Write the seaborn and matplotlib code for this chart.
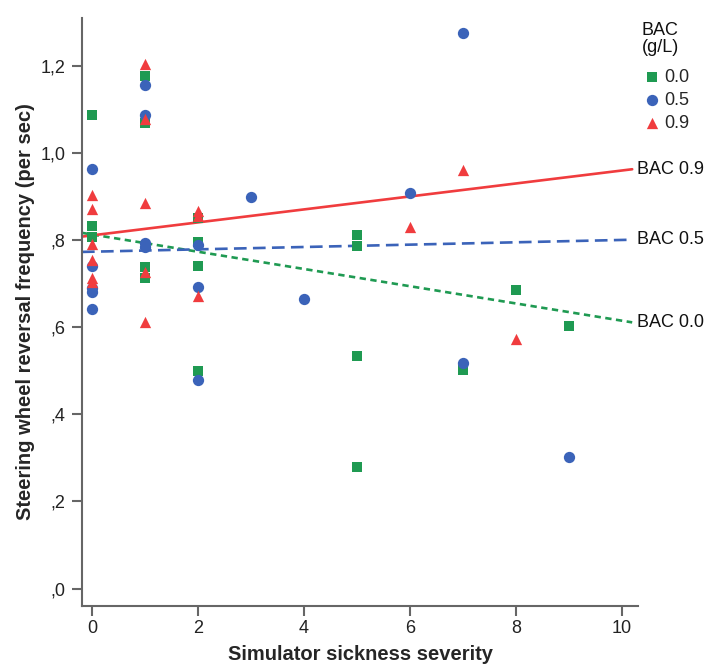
import numpy as np
import pandas as pd
import matplotlib
matplotlib.use("Agg")
import matplotlib.pyplot as plt
from matplotlib.ticker import FixedLocator, FixedFormatter
import seaborn as sns

# Observations per BAC group: simulator sickness score and steering reversal rate
sick_00 = [0, 0, 0, 1, 1, 1, 1, 2, 2, 2, 2, 5, 5, 5, 5, 7, 8, 9]
rate_00 = [1.087, 0.833, 0.808, 1.178, 1.069, 0.739, 0.712, 0.852, 0.796,
           0.741, 0.499, 0.812, 0.787, 0.533, 0.279, 0.501, 0.686, 0.602]

sick_05 = [0, 0, 0, 0, 0, 1, 1, 1, 1, 2, 2, 2, 3, 4, 6, 7, 7, 9]
rate_05 = [0.963, 0.741, 0.691, 0.680, 0.643, 1.156, 1.087, 0.794, 0.785,
           0.789, 0.693, 0.478, 0.899, 0.664, 0.908, 1.275, 0.519, 0.302]

sick_09 = [0, 0, 0, 0, 0, 0, 1, 1, 1, 1, 1, 2, 2, 2, 6, 7, 8]
rate_09 = [0.904, 0.872, 0.792, 0.755, 0.714, 0.703, 1.204, 1.078, 0.886,
           0.728, 0.613, 0.866, 0.855, 0.671, 0.831, 0.961, 0.572]

groups = ["0.0", "0.5", "0.9"]

# Fitted linear trend per group (intercept, slope)
fit_intercept = [0.813, 0.7735, 0.811]
fit_slope = [-0.0198, 0.0027, 0.0149]
fit_labels = ["BAC 0.0", "BAC 0.5", "BAC 0.9"]

y_ticks = [0.0, 0.2, 0.4, 0.6, 0.8, 1.0, 1.2]
y_ticklabels = [",0", ",2", ",4", ",6", ",8", "1,0", "1,2"]
x_ticks = [0, 2, 4, 6, 8, 10]

colors = {"0.0": "#1f9a52", "0.5": "#3b63b9", "0.9": "#f03c3e"}
markers = {"0.0": "s", "0.5": "o", "0.9": "^"}
sizes = {"0.0": 42, "0.5": 66, "0.9": 66}

df = pd.concat([
    pd.DataFrame({"sick": sick_00, "rate": rate_00, "BAC": "0.0"}),
    pd.DataFrame({"sick": sick_05, "rate": rate_05, "BAC": "0.5"}),
    pd.DataFrame({"sick": sick_09, "rate": rate_09, "BAC": "0.9"}),
], ignore_index=True)

sns.set_theme(style="white")
plt.rcParams["font.family"] = ["Liberation Sans", "DejaVu Sans"]

fig = plt.figure(figsize=(7.05, 6.68), dpi=100)
ax = fig.add_axes([0.1163, 0.0928, 0.7887, 0.8802])

xlim = (-0.19, 10.3)
ylim = (-0.04, 1.31)
ax.set_xlim(*xlim)
ax.set_ylim(*ylim)

# Points, one group at a time so each keeps its own marker size
for g in groups:
    sub = df[df["BAC"] == g]
    sns.scatterplot(data=sub, x="sick", y="rate", color=colors[g],
                    marker=markers[g], s=sizes[g], linewidth=0, ax=ax,
                    label=g, zorder=3)

# Trend lines across the plotted range
line_styles = {"0.0": (0, (2.4, 1.7)), "0.5": (0, (4.8, 2.4)), "0.9": "-"}
x_end = 10.19
for g, b0, b1, lab in zip(groups, fit_intercept, fit_slope, fit_labels):
    xs = np.array([xlim[0], x_end])
    ln = pd.DataFrame({"x": xs, "y": b0 + b1 * xs})
    sns.lineplot(data=ln, x="x", y="y", color=colors[g], lw=1.9,
                 linestyle=line_styles[g], ax=ax, zorder=2)
    ax.text(x_end + 0.09, b0 + b1 * x_end, lab, fontsize=13,
            va="center", ha="left", color="#111111", clip_on=False)

# Axes styling
for side in ["top", "right"]:
    ax.spines[side].set_visible(False)
for side in ["left", "bottom"]:
    ax.spines[side].set_color("#666666")
    ax.spines[side].set_linewidth(1.5)

ax.yaxis.set_major_locator(FixedLocator(y_ticks))
ax.yaxis.set_major_formatter(FixedFormatter(y_ticklabels))
ax.set_xticks(x_ticks)
ax.tick_params(axis="both", which="major", direction="out", length=7,
               width=1.5, color="#666666", labelsize=13, labelcolor="#222222",
               left=True, bottom=True, pad=3)
ax.tick_params(axis="y", pad=5)

ax.set_xlabel("Simulator sickness severity", fontsize=14.5, fontweight="bold",
              labelpad=6)
ax.set_ylabel("Steering wheel reversal frequency (per sec)", fontsize=14.5,
              fontweight="bold", labelpad=4)

# Legend: title block centred above the marker entries
ax.text(1.04, 0.993, "BAC\n(g/L)", transform=ax.transAxes, fontsize=13,
        ha="center", va="top", multialignment="center", color="#111111",
        linespacing=1.0)
handles, labels = ax.get_legend_handles_labels()
leg = ax.legend(handles, labels, frameon=False, loc="upper left",
                bbox_to_anchor=(1.009, 0.914), fontsize=13,
                handletextpad=0.2, handlelength=1.0, labelspacing=0.34,
                borderaxespad=0.0, borderpad=0.0)

fig.savefig("out.png", dpi=100)
